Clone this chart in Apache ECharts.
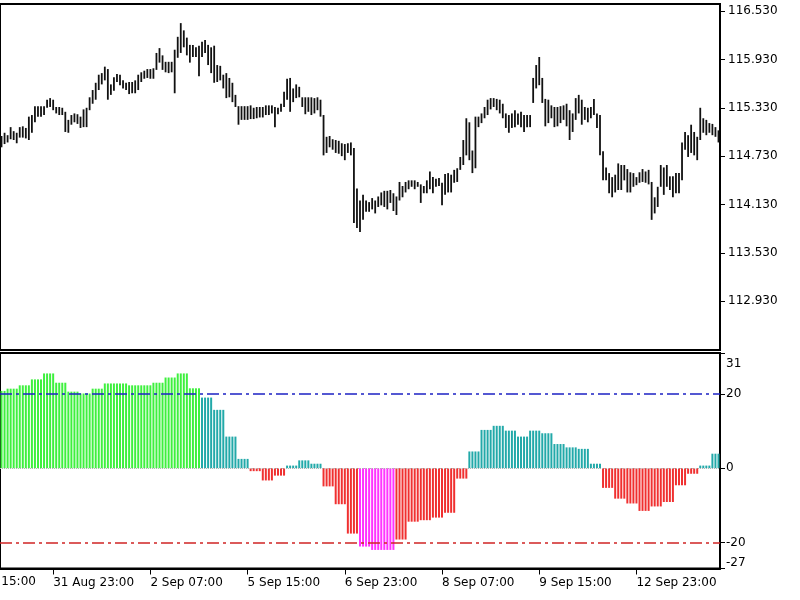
<!DOCTYPE html>
<html>
<head>
<meta charset="utf-8">
<title>Price bars with 4h histogram</title>
<style>
    html, body { margin: 0; padding: 0; background: #ffffff; }
    #main { width: 800px; height: 600px; }
</style>
</head>
<body>
<div id="main"></div>
<script src="https://cdn.jsdelivr.net/npm/echarts@6/dist/echarts.min.js"></script>
<script>
// hourly bars: high and low of every bar, left to right
var highs = [
    114.98, 115.02, 114.99, 115.09, 115.04, 115.02, 115.09, 115.10, 115.08, 115.22,
    115.24, 115.35, 115.35, 115.35, 115.35, 115.43, 115.45, 115.43, 115.34, 115.34,
    115.33, 115.28, 115.18, 115.24, 115.26, 115.25, 115.22, 115.31, 115.33, 115.46,
    115.55, 115.64, 115.74, 115.76, 115.84, 115.81, 115.62, 115.71, 115.75, 115.74,
    115.67, 115.64, 115.65, 115.65, 115.67, 115.74, 115.77, 115.79, 115.81, 115.81,
    115.82, 116.01, 116.07, 115.98, 115.90, 115.90, 115.90, 116.05, 116.21, 116.38,
    116.29, 116.20, 116.11, 116.11, 116.08, 116.10, 116.15, 116.17, 116.11, 116.08,
    116.10, 115.86, 115.85, 115.74, 115.76, 115.70, 115.64, 115.49, 115.35, 115.35,
    115.35, 115.35, 115.36, 115.33, 115.34, 115.34, 115.34, 115.36, 115.36, 115.36,
    115.34, 115.33, 115.38, 115.53, 115.69, 115.70, 115.57, 115.62, 115.59, 115.46,
    115.46, 115.46, 115.46, 115.45, 115.46, 115.43, 115.24, 114.97, 114.98, 114.94,
    114.93, 114.92, 114.89, 114.88, 114.89, 114.90, 114.83, 114.33, 114.18, 114.25,
    114.18, 114.16, 114.21, 114.18, 114.23, 114.28, 114.30, 114.30, 114.31, 114.27,
    114.23, 114.41, 114.36, 114.41, 114.43, 114.43, 114.43, 114.41, 114.38, 114.36,
    114.43, 114.54, 114.47, 114.45, 114.46, 114.40, 114.51, 114.52, 114.50, 114.56,
    114.58, 114.72, 114.93, 115.20, 115.15, 114.80, 115.22, 115.22, 115.26, 115.34,
    115.43, 115.45, 115.45, 115.44, 115.43, 115.38, 115.26, 115.24, 115.26, 115.30,
    115.26, 115.28, 115.24, 115.24, 115.24, 115.70, 115.86, 115.96, 115.70, 115.44,
    115.43, 115.36, 115.34, 115.34, 115.35, 115.36, 115.38, 115.30, 115.26, 115.45,
    115.49, 115.43, 115.34, 115.33, 115.34, 115.44, 115.26, 115.24, 114.79, 114.59,
    114.52, 114.47, 114.50, 114.64, 114.62, 114.62, 114.57, 114.53, 114.52, 114.47,
    114.53, 114.57, 114.54, 114.56, 114.41, 114.22, 114.35, 114.62, 114.59, 114.62,
    114.48, 114.48, 114.52, 114.52, 114.90, 115.03, 114.99, 115.12, 115.03, 114.97,
    115.33, 115.20, 115.18, 115.14, 115.13, 115.09, 115.05
];
var lows = [
    114.84, 114.88, 114.90, 114.94, 114.93, 114.89, 114.96, 114.96, 114.95, 114.93,
    115.02, 115.15, 115.22, 115.22, 115.24, 115.33, 115.34, 115.30, 115.26, 115.24,
    115.24, 115.03, 115.02, 115.12, 115.15, 115.13, 115.08, 115.09, 115.09, 115.30,
    115.38, 115.43, 115.55, 115.62, 115.67, 115.43, 115.49, 115.54, 115.65, 115.61,
    115.57, 115.55, 115.50, 115.51, 115.51, 115.55, 115.65, 115.69, 115.70, 115.69,
    115.69, 115.80, 115.89, 115.80, 115.77, 115.76, 115.77, 115.51, 115.95, 116.01,
    116.08, 115.98, 115.89, 115.96, 115.96, 115.72, 115.96, 116.01, 115.86, 115.76,
    115.64, 115.65, 115.67, 115.57, 115.45, 115.46, 115.40, 115.34, 115.12, 115.18,
    115.18, 115.18, 115.19, 115.19, 115.20, 115.21, 115.21, 115.24, 115.24, 115.26,
    115.09, 115.25, 115.28, 115.34, 115.43, 115.28, 115.40, 115.45, 115.46, 115.34,
    115.25, 115.28, 115.24, 115.26, 115.30, 115.22, 114.74, 114.77, 114.84, 114.81,
    114.77, 114.76, 114.73, 114.68, 114.77, 114.74, 113.90, 113.84, 113.79, 113.94,
    114.04, 114.04, 114.07, 114.02, 114.10, 114.12, 114.10, 114.07, 114.15, 114.05,
    114.00, 114.18, 114.22, 114.28, 114.32, 114.35, 114.32, 114.35, 114.15, 114.27,
    114.27, 114.32, 114.27, 114.35, 114.36, 114.12, 114.25, 114.28, 114.28, 114.40,
    114.41, 114.56, 114.62, 114.74, 114.68, 114.52, 114.58, 115.09, 115.14, 115.20,
    115.24, 115.31, 115.34, 115.30, 115.26, 115.20, 115.08, 115.02, 115.08, 115.09,
    115.12, 115.09, 115.03, 115.09, 115.09, 115.39, 115.57, 115.61, 115.39, 115.10,
    115.14, 115.20, 115.09, 115.10, 115.14, 115.18, 115.10, 114.93, 115.03, 115.18,
    115.26, 115.12, 115.18, 115.15, 115.20, 115.24, 115.08, 114.74, 114.43, 114.43,
    114.27, 114.22, 114.28, 114.31, 114.31, 114.43, 114.28, 114.28, 114.35, 114.37,
    114.40, 114.41, 114.40, 114.38, 113.94, 114.02, 114.10, 114.35, 114.25, 114.35,
    114.31, 114.22, 114.27, 114.27, 114.43, 114.81, 114.72, 114.77, 114.74, 114.68,
    114.93, 115.02, 114.99, 115.02, 114.99, 114.97, 114.90
];

// histogram, one value per 4h bar; each 4h bar covers 4 hourly bars
var h4Values = [
    20.8, 21.4, 22.3, 23.9, 25.5, 23.0, 20.6, 20.1, 21.4, 22.8,
    22.8, 22.3, 22.3, 23.0, 24.4, 25.5, 21.5, 19.0, 15.7, 8.5,
    2.5, -0.8, -3.3, -2.0, 0.7, 2.1, 1.2, -4.9, -9.7, -17.6,
    -21.1, -22.0, -22.0, -19.2, -14.4, -14.0, -13.3, -12.0, -2.8, 4.5,
    10.3, 11.4, 10.1, 8.5, 10.1, 9.4, 6.5, 5.6, 5.2, 1.2,
    -5.3, -8.2, -9.5, -11.5, -10.3, -9.1, -4.6, -1.5, 0.7, 3.9
];
var h4Lead = 2;      // first hourly bars that still belong to the previous 4h bar
var h4Size = 4;

var levelUp = 20;
var levelDown = -20;

var priceTicks = [112.93, 113.53, 114.13, 114.73, 115.33, 115.93, 116.53];
var histTicks = [-27, -20, 0, 20, 31];

var timeLabels = ['31 Aug 23:00', '2 Sep 07:00', '5 Sep 15:00', '6 Sep 23:00', '8 Sep 07:00', '9 Sep 15:00', '12 Sep 23:00'];
var timeLabelBars = [17, 49, 81, 113, 145, 177, 209];

var font = 'DejaVu Sans';

var barIds = highs.map(function (h, i) { return String(i); });

var hist = highs.map(function (h, i) {
    var g = i < h4Lead ? 0 : Math.floor((i - h4Lead) / h4Size) + 1;
    return h4Values[g];
});

function histColor(v) {
    if (v > levelUp) return '#3ef03e';
    if (v >= 0) return '#22a9a9';
    if (v >= levelDown) return '#f03030';
    return '#ff33ff';
}

function isTimeLabel(index) {
    return timeLabelBars.indexOf(index) >= 0;
}

var chart = echarts.init(document.getElementById('main'), null, {renderer: 'canvas'});

var option = {
    animation: false,
    backgroundColor: '#ffffff',
    grid: [
        {left: -2, right: 80, top: 4, height: 346, show: true, borderColor: '#000', borderWidth: 2, backgroundColor: '#fff'},
        {left: -2, right: 80, top: 353, height: 215.5, show: true, borderColor: '#000', borderWidth: 2, backgroundColor: '#fff'}
    ],
    xAxis: [{
        gridIndex: 0,
        type: 'category',
        data: barIds,
        axisLine: {show: false},
        axisTick: {show: false},
        axisLabel: {show: false}
    }, {
        gridIndex: 1,
        type: 'category',
        data: barIds,
        axisLine: {show: true, onZero: false, lineStyle: {color: '#000', width: 2}},
        axisTick: {
            show: true,
            alignWithLabel: true,
            length: 6,
            interval: function (index) { return isTimeLabel(index); },
            lineStyle: {color: '#000', width: 1}
        },
        axisLabel: {
            interval: function (index) { return isTimeLabel(index); },
            formatter: function (value) {
                return timeLabels[timeLabelBars.indexOf(Number(value))];
            },
            align: 'left',
            margin: 8,
            color: '#000',
            fontFamily: font,
            fontSize: 12
        }
    }],
    yAxis: [{
        gridIndex: 0,
        type: 'value',
        position: 'right',
        min: 112.326,
        max: 116.617,
        splitLine: {show: false},
        axisLine: {show: true, lineStyle: {color: '#000', width: 2}},
        axisTick: {show: true, length: 5, customValues: priceTicks, lineStyle: {color: '#000'}},
        axisLabel: {
            customValues: priceTicks,
            formatter: function (v) { return v.toFixed(3); },
            margin: 8,
            color: '#000',
            fontFamily: font,
            fontSize: 12
        }
    }, {
        gridIndex: 1,
        type: 'value',
        position: 'right',
        min: -27,
        max: 31,
        splitLine: {show: false},
        axisLine: {show: true, lineStyle: {color: '#000', width: 2}},
        axisTick: {show: true, length: 5, customValues: histTicks, lineStyle: {color: '#000'}},
        axisLabel: {
            customValues: histTicks,
            formatter: function (v) {
                if (v === histTicks[histTicks.length - 1]) return '{top|' + v + '}';
                return String(v);
            },
            rich: {top: {padding: [5, 0, 0, 0]}},
            margin: 6,
            color: '#000',
            fontFamily: font,
            fontSize: 12,
            verticalAlignMaxLabel: 'top',
            verticalAlignMinLabel: 'bottom'
        }
    }],
    series: [{
        name: 'bars',
        type: 'custom',
        xAxisIndex: 0,
        yAxisIndex: 0,
        silent: true,
        data: highs.map(function (h, i) { return [i, h, lows[i]]; }),
        encode: {x: 0, y: [1, 2]},
        renderItem: function (params, api) {
            var top = api.coord([api.value(0), api.value(1)]);
            var bottom = api.coord([api.value(0), api.value(2)]);
            return {
                type: 'line',
                shape: {x1: top[0], y1: top[1], x2: bottom[0], y2: bottom[1]},
                style: {stroke: '#111', lineWidth: 1.8}
            };
        }
    }, {
        name: 'histogram',
        type: 'bar',
        xAxisIndex: 1,
        yAxisIndex: 1,
        silent: true,
        barWidth: 2,
        data: hist,
        itemStyle: {
            color: function (p) { return histColor(p.value); }
        },
        markLine: {
            silent: true,
            symbol: 'none',
            label: {show: false},
            data: [{
                yAxis: levelUp,
                lineStyle: {color: '#1c22c4', width: 1.5, type: [12, 4, 3, 4]}
            }, {
                yAxis: levelDown,
                lineStyle: {color: '#d02424', width: 1.5, type: [12, 4, 3, 4]}
            }, {
                yAxis: 0,
                lineStyle: {color: '#b4b4b4', width: 1, type: 'dotted'}
            }]
        }
    }],
    graphic: [{
        // label of the tick that sits just left of the visible bars
        type: 'text',
        left: -45,
        top: 576,
        style: {text: '30 Aug 15:00', fill: '#000', font: '12px "DejaVu Sans"'}
    }]
};

chart.setOption(option);
</script>
</body>
</html>
